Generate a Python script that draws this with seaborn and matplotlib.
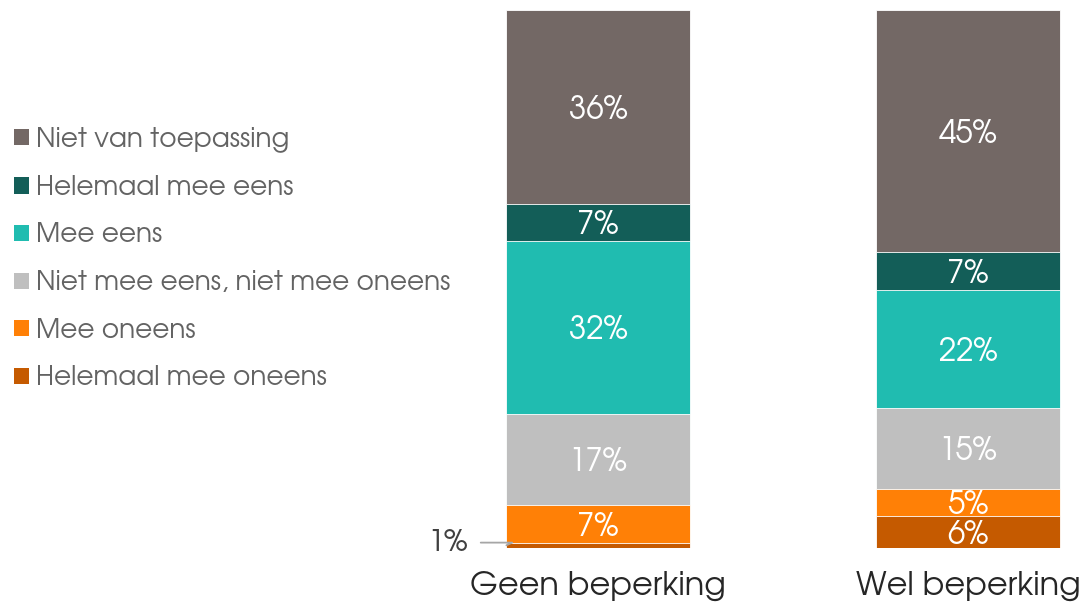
import matplotlib
matplotlib.use("Agg")
import matplotlib.pyplot as plt
import seaborn as sns
import numpy as np
import pandas as pd
from matplotlib.patches import Patch

categories = ["Geen beperking", "Wel beperking"]
series = ["Helemaal mee oneens", "Mee oneens", "Niet mee eens, niet mee oneens",
          "Mee eens", "Helemaal mee eens", "Niet van toepassing"]
values = {
    "Helemaal mee oneens": [1, 6],
    "Mee oneens": [7, 5],
    "Niet mee eens, niet mee oneens": [17, 15],
    "Mee eens": [32, 22],
    "Helemaal mee eens": [7, 7],
    "Niet van toepassing": [36, 45],
}
colors = {
    "Helemaal mee oneens": "#C55A00",
    "Mee oneens": "#FF8006",
    "Niet mee eens, niet mee oneens": "#BFBFBF",
    "Mee eens": "#20BCB0",
    "Helemaal mee eens": "#135E58",
    "Niet van toepassing": "#736865",
}

sns.set_theme(style="white")
plt.rcParams["font.family"] = ["TeX Gyre Adventor", "DejaVu Sans"]

fig = plt.figure(figsize=(10.83, 6.07), dpi=100)
ax = fig.add_axes([411.5 / 1083, 59 / 607, 1 - 411.5 / 1083, 538 / 607])

cum = np.zeros(len(categories))
cums = {}
for s in series:
    bottoms = cum.copy()
    cum = cum + np.array(values[s], dtype=float)
    cums[s] = (bottoms, cum.copy())

# draw from top cumulative down so lower segments overlay
for s in reversed(series):
    df = pd.DataFrame({"cat": categories, "val": cums[s][1]})
    sns.barplot(data=df, x="cat", y="val", color=colors[s], width=0.495,
                saturation=1, edgecolor="white", linewidth=0.6, ax=ax)

for s in series:
    b, t = cums[s]
    for i, v in enumerate(values[s]):
        if v < 3:
            continue
        ax.annotate(f"{v}%", xy=(i, (b[i] + t[i]) / 2), xytext=(0, -2),
                    textcoords="offset points", ha="center", va="center",
                    color="white", fontsize=22.5)

# outside label for small segment
b, t = cums["Helemaal mee oneens"]
ax.annotate(f"{values['Helemaal mee oneens'][0]}%", xy=(-0.2475, (b[0] + t[0]) / 2),
            xytext=(-0.352, 1.0), textcoords="data", ha="right", va="center",
            fontsize=22, color="#404040",
            arrowprops=dict(arrowstyle="-", color="#A6A6A6", lw=1.3,
                            connectionstyle="angle,angleA=0,angleB=25,rad=0",
                            shrinkA=7, shrinkB=0))

ax.set_xlim(-0.504, 1.311)
ax.set_ylim(0, 100)
ax.set_xlabel("")
ax.set_ylabel("")
ax.set_yticks([])
ax.tick_params(axis="x", length=0, pad=16.5, labelsize=23, labelcolor="#262626")
for sp in ax.spines.values():
    sp.set_visible(False)

handles = [Patch(facecolor=colors[s], edgecolor="none") for s in reversed(series)]
fig.legend(handles, list(reversed(series)), loc="upper left",
           bbox_to_anchor=(0.013, 0.7916), frameon=False, fontsize=19,
           handlelength=0.57, handleheight=0.57, handletextpad=0.27,
           labelspacing=0.855, labelcolor="#636363", borderaxespad=0, borderpad=0)

fig.savefig("out.png", dpi=100)
